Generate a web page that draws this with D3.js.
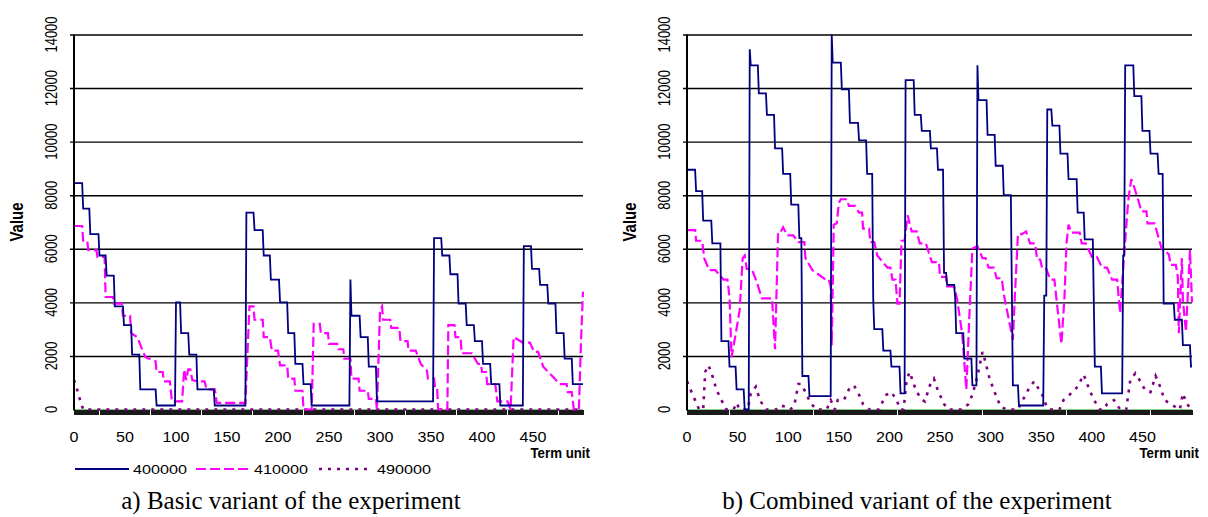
<!DOCTYPE html>
<html>
<head>
<meta charset="utf-8">
<script src="https://cdn.jsdelivr.net/npm/d3@7"></script>
<style>
    body { margin: 0; background: #fff; }
    svg { display: block; font-family: Arial, "Liberation Sans", sans-serif; }
</style>
</head>
<body>
<svg id="chart" width="1208" height="517"></svg>
<script>

// axis values
let yTicks = [0, 2000, 4000, 6000, 8000, 10000, 12000, 14000];
let xLabels = [0, 50, 100, 150, 200, 250, 300, 350, 400, 450];
let seriesNames = ["400000", "410000", "490000"];
let captions = ["a) Basic variant of the experiment", "b) Combined variant of the experiment"];

// a) basic variant - [term unit, value]
let basic400 = [[0,8450],[8,8450],[9,7500],[15,7500],[16,6550],[24,6550],[25,5750],[31,5750],[32,5000],[39,5000],[40,3850],[48,3850],[49,3150],[56,3150],[57,2050],[64,2050],[65,750],[80,750],[81,150],[99,150],[100,4000],[104,4000],[105,2850],[112,2850],[113,2050],[120,2050],[121,750],[137,750],[138,150],[168,150],[169,7350],[176,7350],[177,6700],[185,6700],[186,5750],[192,5750],[193,4850],[201,4850],[202,4000],[209,4000],[210,2850],[216,2850],[217,1700],[224,1700],[225,950],[232,950],[233,150],[270,150],[271,4850],[272,3500],[280,3500],[281,2700],[288,2700],[289,1600],[296,1600],[297,300],[352,300],[353,6400],[360,6400],[361,5750],[368,5750],[369,5050],[376,5050],[377,3950],[384,3950],[385,3150],[392,3150],[393,2550],[400,2550],[401,1700],[408,1700],[409,950],[417,950],[418,150],[440,150],[441,6100],[448,6100],[449,5250],[456,5250],[457,4650],[464,4650],[465,3950],[472,3950],[473,2850],[480,2850],[481,1900],[488,1900],[489,950],[499,950]];

let basic410 = [[0,6850],[8,6850],[9,6300],[13,6300],[14,5950],[22,5950],[23,5700],[30,5700],[31,4200],[38,4200],[39,3950],[47,3950],[48,3500],[55,3500],[56,2850],[62,2700],[70,1950],[80,1800],[81,1400],[87,1400],[88,1050],[94,1050],[96,300],[106,300],[108,1500],[110,1100],[112,1500],[114,1500],[116,1100],[121,1050],[128,1050],[130,750],[138,750],[140,250],[168,250],[172,3850],[176,3850],[177,3350],[185,3350],[186,2700],[192,2700],[194,2200],[200,2200],[202,1650],[209,1650],[210,1150],[216,1150],[217,700],[224,700],[225,0],[233,0],[235,3200],[241,3200],[242,2850],[249,2850],[250,2450],[258,2450],[259,2250],[264,2250],[265,1900],[271,1900],[272,1150],[279,1150],[280,700],[288,700],[289,400],[296,400],[297,0],[300,3700],[302,3850],[303,3350],[310,3350],[311,3050],[319,3050],[320,2550],[327,2550],[328,2200],[335,2200],[340,1700],[346,1450],[347,1150],[353,1150],[354,800],[356,800],[357,0],[366,0],[367,3150],[373,3150],[374,2700],[379,2700],[380,2100],[390,2100],[396,1700],[399,1700],[400,1400],[404,1400],[405,950],[413,950],[415,300],[425,300],[428,0],[431,2700],[440,2500],[447,2500],[451,2150],[455,2150],[460,1600],[470,1200],[476,950],[483,950],[484,650],[488,650],[490,0],[495,0],[497,2500],[499,4400]];

let basic490 = [[0,1100],[3,750],[6,350],[9,0],[499,0]];

// b) combined variant - [term unit, value]
let combined400 = [[0,8950],[8,8950],[9,8150],[15,8150],[16,7050],[24,7050],[25,6200],[33,6200],[34,2550],[41,2550],[42,1600],[48,1600],[49,750],[56,750],[57,0],[61,0],[62,13450],[63,12850],[70,12850],[71,11800],[78,11800],[79,11000],[86,11000],[87,9750],[94,9750],[95,8800],[102,8800],[103,7650],[110,7650],[111,6400],[113,6400],[114,1250],[120,1250],[121,500],[142,500],[143,14000],[144,12950],[152,12950],[153,11950],[160,11950],[161,10700],[169,10700],[170,10050],[177,10050],[178,8800],[183,8800],[184,4150],[185,3000],[193,3000],[194,2200],[201,2200],[202,1600],[210,1600],[211,600],[215,600],[216,12300],[224,12300],[225,11000],[231,11000],[232,10400],[240,10400],[241,9750],[247,9750],[248,8950],[253,8950],[254,5100],[256,5100],[257,4650],[264,4650],[265,4150],[266,2850],[273,2850],[274,1900],[281,1900],[282,900],[286,900],[287,12850],[288,11550],[296,11550],[297,10250],[304,10250],[305,9100],[312,9100],[313,8000],[320,8000],[322,900],[327,900],[328,150],[352,150],[353,4250],[355,4250],[356,11200],[360,11200],[361,10600],[368,10600],[369,9550],[376,9550],[377,8600],[385,8600],[386,7350],[392,7350],[393,6350],[401,6350],[403,1600],[409,1600],[410,600],[430,600],[431,5750],[432,5750],[433,12850],[441,12850],[442,11700],[449,11700],[450,10400],[457,10400],[458,9550],[465,9550],[466,8800],[470,8800],[471,3950],[481,3950],[482,3350],[489,3350],[490,2400],[497,2400],[498,1600],[499,1600]];

let combined410 = [[0,6700],[8,6700],[9,6300],[15,6300],[17,5650],[22,5200],[28,5200],[36,4850],[40,4850],[42,4200],[44,1950],[48,2800],[52,3700],[55,5650],[57,5750],[59,5250],[64,5250],[69,4750],[74,4150],[84,4150],[87,2250],[90,6600],[92,6600],[95,6800],[99,6500],[105,6500],[110,6250],[116,6250],[117,5650],[124,5200],[137,4850],[140,4850],[142,4600],[143,2400],[145,6900],[148,6950],[150,7700],[152,7850],[158,7850],[160,7600],[166,7600],[170,7350],[173,7350],[174,6750],[180,6750],[181,6250],[185,6250],[188,5750],[198,5300],[201,5300],[203,4850],[206,4850],[208,3950],[210,3950],[212,6300],[215,6300],[218,7250],[222,6650],[227,6650],[230,6200],[236,6200],[242,5500],[249,5500],[250,4950],[256,4950],[257,4600],[264,4600],[267,4100],[272,2800],[276,750],[279,3500],[282,6000],[287,6100],[292,5650],[295,5650],[298,5300],[303,5300],[306,4900],[311,4900],[313,4300],[322,2600],[324,4250],[327,6550],[331,6550],[335,6650],[339,6200],[344,6200],[346,5600],[349,5600],[351,5250],[355,5250],[359,4850],[363,4850],[366,3800],[370,2450],[373,4200],[375,6200],[377,6900],[380,6600],[388,6600],[390,6200],[394,6200],[400,5700],[405,5700],[410,5300],[415,5300],[420,4850],[425,4850],[428,3600],[432,5800],[436,7800],[439,8600],[441,8400],[446,7800],[449,7400],[454,7400],[455,6950],[462,6950],[469,6000],[476,5800],[478,5400],[483,5400],[485,4950],[486,2850],[489,5650],[490,4100],[493,2900],[497,5950],[499,4000]];

let combined490 = [[0,1050],[4,700],[8,350],[12,0],[16,0],[18,1400],[21,1650],[24,1400],[29,750],[34,350],[39,0],[46,0],[49,250],[52,0],[60,0],[63,600],[68,850],[72,350],[78,0],[88,0],[92,150],[98,100],[102,0],[106,150],[110,950],[113,950],[117,650],[122,250],[128,0],[138,0],[142,350],[146,0],[149,350],[155,350],[160,750],[165,900],[170,550],[174,200],[180,0],[190,0],[194,350],[197,550],[202,650],[207,350],[211,0],[214,0],[217,1100],[220,1400],[226,750],[231,400],[235,300],[240,900],[244,1150],[248,700],[254,200],[258,0],[272,0],[278,200],[282,550],[287,1250],[292,2150],[294,1900],[299,1150],[306,450],[310,100],[316,0],[327,0],[330,250],[334,500],[338,800],[343,1050],[347,800],[351,550],[355,150],[358,0],[368,0],[372,350],[378,550],[386,850],[392,1300],[398,700],[403,300],[408,0],[412,0],[415,200],[422,350],[428,0],[434,0],[438,1100],[443,1350],[448,1050],[453,700],[458,650],[463,1250],[467,900],[472,350],[480,150],[487,0],[490,600],[494,200],[499,0]];

// line styles per series
let styles = [
    {color: "#000080", width: 1.8, dash: null},
    {color: "#ff00ff", width: 2.2, dash: "10,4"},
    {color: "#800080", width: 2.6, dash: "3,6"}
];

let svg = d3.select("#chart");

drawPanel({left: 74, right: 583, series: [basic400, basic410, basic490], caption: captions[0], captionX: 291, legend: true});
drawPanel({left: 687, right: 1192, series: [combined400, combined410, combined490], caption: captions[1], captionX: 917, legend: false});


function drawPanel(cfg) {
    let top = 34.5, bottom = 409.5;

    let x = d3.scaleLinear().domain([0, 499]).range([cfg.left, cfg.right]);
    let y = d3.scaleLinear().domain([0, 14000]).range([bottom, top]);

    let g = svg.append("g");

    // horizontal gridlines
    g.append("g")
        .attr("transform", "translate(" + cfg.left + ",0)")
        .call(d3.axisLeft(y).tickValues(yTicks.slice(1)).tickSize(-(cfg.right - cfg.left)).tickSizeOuter(0).tickFormat(""))
        .call(a => a.select(".domain").remove())
        .call(a => a.selectAll("line").attr("x1", -4).attr("stroke", "#000").attr("stroke-width", 1.4));

    // y tick labels (rotated)
    g.selectAll(".ylab")
        .data(yTicks)
        .enter().append("text")
        .attr("class", "ylab")
        .attr("transform", d => "translate(" + (cfg.left - 17) + "," + y(d) + ") scale(1.3,1) rotate(-90)")
        .attr("text-anchor", "middle")
        .style("font-size", "13px")
        .text(d => d);

    // y axis title
    g.append("text")
        .attr("transform", "translate(" + (cfg.left - 51) + "," + ((top + bottom) / 2) + ") scale(1.2,1) rotate(-90)")
        .attr("text-anchor", "middle")
        .style("font-size", "15px")
        .style("font-weight", "bold")
        .text("Value");

    // category tick marks (one per term unit)
    g.append("g")
        .attr("transform", "translate(0," + (bottom + 0.5) + ")")
        .call(d3.axisBottom(x).tickValues(d3.range(0, 500)).tickSize(5).tickSizeOuter(0).tickFormat(""))
        .call(a => a.select(".domain").remove())
        .call(a => a.selectAll("line").attr("stroke", "#1a1a1a").attr("stroke-width", 1).attr("shape-rendering", "crispEdges"));

    // x labels
    g.selectAll(".xlab")
        .data(xLabels)
        .enter().append("text")
        .attr("class", "xlab")
        .attr("transform", d => "translate(" + x(d) + ",442) scale(1.15,1)")
        .attr("text-anchor", "middle")
        .style("font-size", "14px")
        .text(d => d);

    g.append("text")
        .attr("transform", "translate(" + (cfg.right + 7) + ",458) scale(0.95,1)")
        .attr("text-anchor", "end")
        .style("font-size", "14px")
        .style("font-weight", "bold")
        .text("Term unit");

    // series
    let line = d3.line()
        .x(d => x(d[0]))
        .y(d => y(d[1]));

    // zero line
    g.append("line")
        .attr("x1", cfg.left).attr("x2", cfg.right)
        .attr("y1", bottom).attr("y2", bottom)
        .attr("stroke", "#7fd07f").attr("stroke-width", 1);

    cfg.series.slice().reverse().forEach((s, j) => {
        let st = styles[cfg.series.length - 1 - j];
        g.append("path")
            .datum(s)
            .attr("fill", "none")
            .attr("stroke", st.color)
            .attr("stroke-width", st.width)
            .attr("stroke-dasharray", st.dash)
            .attr("d", line);
    });

    // y axis line
    g.append("line")
        .attr("x1", cfg.left).attr("x2", cfg.left)
        .attr("y1", top).attr("y2", bottom + 1)
        .attr("stroke", "#000").attr("stroke-width", 2);

    // caption
    svg.append("text")
        .attr("x", cfg.captionX)
        .attr("y", 509)
        .attr("text-anchor", "middle")
        .style("font-family", "'Liberation Serif', 'Times New Roman', serif")
        .style("font-size", "25px")
        .text(cfg.caption);

    if (cfg.legend) {
        let lx = [75, 196, 319];
        seriesNames.forEach((name, i) => {
            let st = styles[i];
            svg.append("line")
                .attr("x1", lx[i]).attr("x2", lx[i] + 54)
                .attr("y1", 469).attr("y2", 469)
                .attr("stroke", st.color)
                .attr("stroke-width", st.width)
                .attr("stroke-dasharray", st.dash);
            svg.append("text")
                .attr("transform", "translate(" + (lx[i] + 58) + ",474) scale(1.2,1)")
                .style("font-size", "13.5px")
                .text(name);
        });
    }
}
</script>
</body>
</html>
